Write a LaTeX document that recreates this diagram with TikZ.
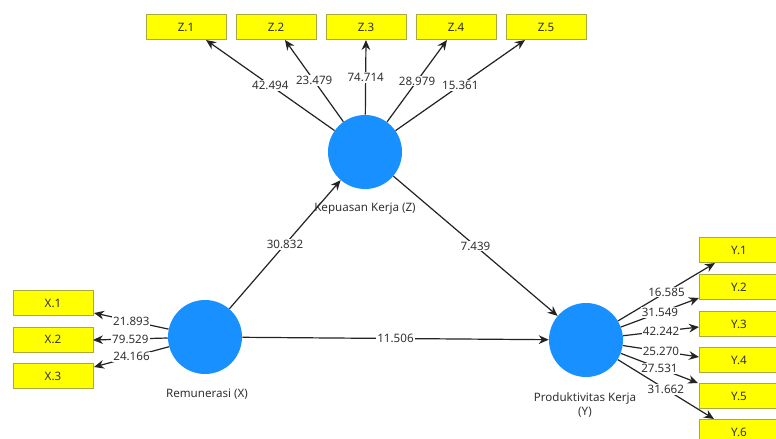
\documentclass[tikz,border=0pt]{standalone}
\usepackage{fontspec}
\setmainfont{Noto Sans}
\usetikzlibrary{arrows.meta}
\definecolor{lv}{RGB}{24,144,255}
\definecolor{ind}{RGB}{255,255,0}
\definecolor{indline}{RGB}{170,170,60}
\definecolor{txt}{RGB}{50,50,50}
\definecolor{edge}{RGB}{35,35,35}
\tikzset{
  latent/.style={circle,fill=lv,draw=none,minimum size=55.5pt,inner sep=0pt},
  indbox/.style={rectangle,fill=ind,draw=indline,line width=0.4pt,minimum width=60pt,minimum height=19pt,inner sep=0pt,font=\fontsize{8.7}{10}\selectfont,text=txt},
  conn/.style={draw=edge,line width=0.9pt,-{Stealth[length=7.5pt,width=6.5pt]}},
  coef/.style={fill=white,inner sep=0.8pt,font=\fontsize{8.7}{10}\selectfont,text=txt,pos=0.5},
  lvname/.style={font=\fontsize{8.7}{10.5}\selectfont,text=txt,align=center}
}
\begin{document}
\begin{tikzpicture}[x=0.75pt,y=-0.75pt]
\useasboundingbox[fill=white] (0,0) rectangle (776,439);
% latent variables
\node[latent] (Z) at (365,152) {};
\node[latent] (X) at (205,337) {};
\node[latent] (Y) at (586,340) {};
\node[lvname] (Zn) at (365,209) {Kepuasan Kerja (Z)};
\node[lvname] (Xn) at (207,394) {Remunerasi (X)};
\node[lvname] (Yn) at (585,405) {Produktivitas Kerja\\(Y)};
% Z indicators
\node[indbox] (Z1) at (186,27) {Z.1};
\node[indbox] (Z2) at (276,27) {Z.2};
\node[indbox] (Z3) at (366,27) {Z.3};
\node[indbox] (Z4) at (456,27) {Z.4};
\node[indbox] (Z5) at (546,27) {Z.5};
% X indicators
\node[indbox] (X1) at (53,303) {X.1};
\node[indbox] (X2) at (53,339.5) {X.2};
\node[indbox] (X3) at (53,376) {X.3};
% Y indicators
\node[indbox] (Y1) at (739,250) {Y.1};
\node[indbox] (Y2) at (739,287) {Y.2};
\node[indbox] (Y3) at (739,324) {Y.3};
\node[indbox] (Y4) at (739,360) {Y.4};
\node[indbox] (Y5) at (739,396) {Y.5};
\node[indbox] (Y6) at (739,432) {Y.6};
% tip coordinates
\coordinate (z1t) at (206,40);
\coordinate (z2t) at (285,40);
\coordinate (z3t) at (366,40);
\coordinate (z4t) at (447,40);
\coordinate (z5t) at (525,40);
\coordinate (x1t) at (94,313);
\coordinate (x2t) at (93,340);
\coordinate (x3t) at (94,367);
\coordinate (y1t) at (715,263);
\coordinate (y2t) at (699,298);
\coordinate (y3t) at (699,327);
\coordinate (y4t) at (699,357);
\coordinate (y5t) at (698,383);
\coordinate (y6t) at (714,419);
% outer loadings
\draw[conn] (Z) -- (z1t) node[coef] {42.494};
\draw[conn] (Z) -- (z2t) node[coef] {23.479};
\draw[conn] (Z) -- (z3t) node[coef] {74.714};
\draw[conn] (Z) -- (z4t) node[coef] {28.979};
\draw[conn] (Z) -- (z5t) node[coef] {15.361};
\draw[conn] (X) -- (x1t) node[coef] {21.893};
\draw[conn] (X) -- (x2t) node[coef] {79.529};
\draw[conn] (X) -- (x3t) node[coef] {24.166};
\draw[conn] (Y) -- (y1t) node[coef] {16.585};
\draw[conn] (Y) -- (y2t) node[coef] {31.549};
\draw[conn] (Y) -- (y3t) node[coef] {42.242};
\draw[conn] (Y) -- (y4t) node[coef] {25.270};
\draw[conn] (Y) -- (y5t) node[coef] {27.531};
\draw[conn] (Y) -- (y6t) node[coef] {31.662};
% structural paths
\draw[conn] (X) -- (Z) node[coef] {30.832};
\draw[conn] (Z) -- (Y) node[coef] {7.439};
\draw[conn] (X) -- (Y) node[coef] {11.506};
\end{tikzpicture}
\end{document}
